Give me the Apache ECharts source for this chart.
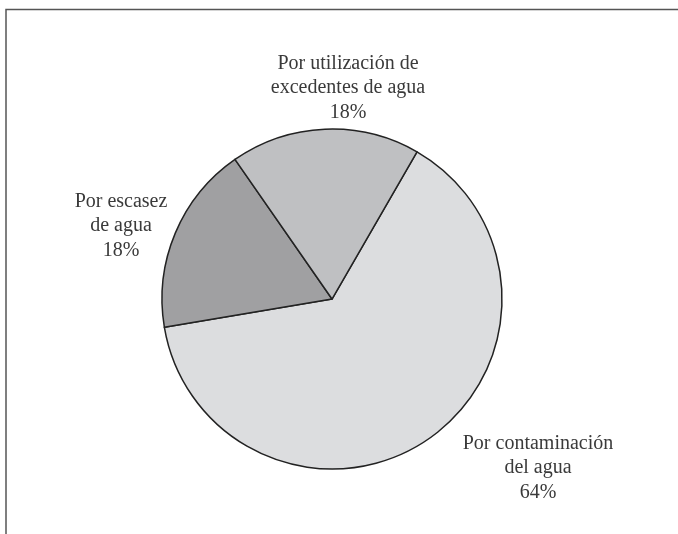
<!DOCTYPE html>
<html>
<head>
<meta charset="utf-8">
<title>Pie</title>
<script src="https://cdn.jsdelivr.net/npm/echarts@6/dist/echarts.min.js"></script>
<style>
  html, body { margin: 0; padding: 0; background: #fff; }
  #pieChart { width: 678px; height: 534px; }
</style>
</head>
<body>
<div id="pieChart"></div>
<script>
// datos del gráfico
var categories = ['Por contaminación\ndel agua', 'Por escasez\nde agua', 'Por utilización de\nexcedentes de agua'];
var values = [64, 18, 18];
var colors = ['#dcdddf', '#a0a0a2', '#bfc0c2'];

// posición de cada etiqueta (centro del bloque de texto)
var labelPos = [[538, 468], [121, 226], [348, 88]];

function initPie() {
    var chart = echarts.init(document.getElementById('pieChart'));
    var data = [];
    for (var i = 0; i < values.length; i++) {
        data.push({
            name: categories[i],
            value: values[i],
            itemStyle: { color: colors[i] }
        });
    }
    var option = {
        animation: false,
        graphic: [
            {
                type: 'polyline',
                shape: { points: [[6, 534], [6, 9.5], [678, 9.5]] },
                style: { stroke: '#555', lineWidth: 1.5, fill: null }
            }
        ],
        series: [{
            type: 'pie',
            center: [332, 299],
            radius: 170,
            startAngle: 60,
            clockwise: true,
            data: data,
            itemStyle: { borderColor: '#222', borderWidth: 1.5 },
            label: {
                show: true,
                position: 'outside',
                formatter: function (p) { return p.name + '\n' + p.value + '%'; },
                fontFamily: '"Liberation Serif", "DejaVu Serif", serif',
                fontSize: 20,
                lineHeight: 24.5,
                color: '#3a3a3a',
                align: 'center'
            },
            labelLine: { show: false },
            labelLayout: function (params) {
                var pos = labelPos[params.dataIndex];
                return { x: pos[0], y: pos[1], align: 'center', verticalAlign: 'middle' };
            },
            emphasis: { disabled: true }
        }]
    };
    chart.setOption(option);
}

initPie();
</script>
</body>
</html>
